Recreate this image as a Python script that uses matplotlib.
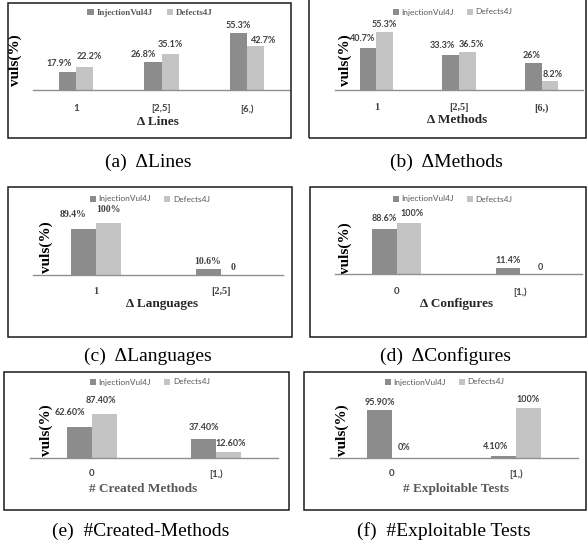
import matplotlib.pyplot as plt
import numpy as np
from matplotlib.patches import Rectangle

# --- data -------------------------------------------------------------
series = ['InjectionVul4J', 'Defects4J']

lines_cats = ['1', '[2,5]', '[6,)']
lines_inj = [17.9, 26.8, 55.3]
lines_d4j = [22.2, 35.1, 42.7]
lines_txt_inj = ['17.9%', '26.8%', '55.3%']
lines_txt_d4j = ['22.2%', '35.1%', '42.7%']

methods_cats = ['1', '[2,5]', '[6,)']
methods_inj = [40.7, 33.3, 26.0]
methods_d4j = [55.3, 36.5, 8.2]
methods_txt_inj = ['40.7%', '33.3%', '26%']
methods_txt_d4j = ['55.3%', '36.5%', '8.2%']

lang_cats = ['1', '[2,5]']
lang_inj = [89.4, 10.6]
lang_d4j = [100.0, 0.0]
lang_txt_inj = ['89.4%', '10.6%']
lang_txt_d4j = ['100%', '0']

conf_cats = ['0', '[1,)']
conf_inj = [88.6, 11.4]
conf_d4j = [100.0, 0.0]
conf_txt_inj = ['88.6%', '11.4%']
conf_txt_d4j = ['100%', '0']

created_cats = ['0', '[1,)']
created_inj = [62.6, 37.4]
created_d4j = [87.4, 12.6]
created_txt_inj = ['62.60%', '37.40%']
created_txt_d4j = ['87.40%', '12.60%']

exploit_cats = ['0', '[1,)']
exploit_inj = [95.9, 4.1]
exploit_d4j = [0.0, 100.0]
exploit_txt_inj = ['95.90%', '4.10%']
exploit_txt_d4j = ['0%', '100%']

# --- style ------------------------------------------------------------
W, H = 587, 546
DARK = '#8c8c8c'
LIGHT = '#c4c4c4'
SERIF = 'Liberation Serif'
SANS = 'Lato'

fig = plt.figure(figsize=(W / 100, H / 100), dpi=100)


def fx(px):
    return px / W


def fy(py):
    return 1 - py / H


# layout in pixels of the reference picture
panels = [
    dict(cats=lines_cats, inj=lines_inj, d4j=lines_d4j, ti=lines_txt_inj, td=lines_txt_d4j,
         box=(8, 3, 291, 138), px=(33, 290), axis=90, scale=1.03,
         leg=(150, 13), leg_font=(SERIF, 'bold', 6.5), tick_font=(SANS, 'bold', 7),
         lab_font=SANS, ylab=(15, 60), xlab=(158, 122), xl_color='#262626', tick_y=108,
         xlabel='Δ Lines', cap=(148, 162), caption='(a)  ΔLines',
         off_i=[(-8, 8), (-10, 8), (0, 8)], off_d=[(5, 11), (0, 9), (8, 6)]),
    dict(cats=methods_cats, inj=methods_inj, d4j=methods_d4j, ti=methods_txt_inj, td=methods_txt_d4j,
         box=(309, -2, 585.5, 138), px=(335, 583), axis=90, scale=1.04,
         leg=(453, 12), leg_font=(SANS, 'normal', 6), tick_font=(SERIF, 'bold', 7.5),
         lab_font=SANS, ylab=(345, 60), xlab=(457, 120), xl_color='#262626', tick_y=107,
         xlabel='Δ Methods', cap=(446, 162), caption='(b)  ΔMethods',
         off_i=[(-6, 9), (-8, 10), (-2, 7)], off_d=[(0, 8), (4, 8), (3, 7)]),
    dict(cats=lang_cats, inj=lang_inj, d4j=lang_d4j, ti=lang_txt_inj, td=lang_txt_d4j,
         box=(8, 187, 292, 337), px=(33, 283), axis=275, scale=0.52,
         leg=(150, 199), leg_font=(SANS, 'normal', 6), tick_font=(SERIF, 'bold', 7.5),
         lab_font=SERIF, ylab=(46, 247), xlab=(162, 304), xl_color='#262626', tick_y=291,
         xlabel='Δ Languages', cap=(148, 356), caption='(c)  ΔLanguages',
         off_i=[(-10, 14), (0, 8)], off_d=[(0, 13), (0, 7)]),
    dict(cats=conf_cats, inj=conf_inj, d4j=conf_d4j, ti=conf_txt_inj, td=conf_txt_d4j,
         box=(310, 187, 585.5, 337), px=(335, 582), axis=274, scale=0.51,
         leg=(453, 199), leg_font=(SANS, 'normal', 6), tick_font=(SANS, 'bold', 7),
         lab_font=SANS, ylab=(345, 248), xlab=(457, 304), xl_color='#262626', tick_y=291,
         xlabel='Δ Configures', cap=(446, 356), caption='(d)  ΔConfigures',
         off_i=[(0, 10), (0, 8)], off_d=[(3, 9), (8, 7)]),
    dict(cats=created_cats, inj=created_inj, d4j=created_d4j, ti=created_txt_inj, td=created_txt_d4j,
         box=(4, 372, 289, 510), px=(30, 278), axis=458, scale=0.5,
         leg=(150, 382), leg_font=(SANS, 'normal', 6), tick_font=(SANS, 'bold', 7),
         lab_font=SANS, ylab=(46, 430), xlab=(143, 489), xl_color='#595959', tick_y=473,
         xlabel='# Created Methods', cap=(141, 531), caption='(e)  #Created-Methods',
         off_i=[(-10, 14), (0, 12)], off_d=[(-4, 14), (2, 8)]),
    dict(cats=exploit_cats, inj=exploit_inj, d4j=exploit_d4j, ti=exploit_txt_inj, td=exploit_txt_d4j,
         box=(304, 372, 585.5, 510), px=(330, 578), axis=458, scale=0.5,
         leg=(445, 382), leg_font=(SANS, 'normal', 6), tick_font=(SANS, 'bold', 7),
         lab_font=SANS, ylab=(342, 430), xlab=(456, 489), xl_color='#595959', tick_y=473,
         xlabel='# Exploitable Tests', cap=(444, 531), caption='(f)  #Exploitable Tests',
         off_i=[(0, 8), (-8, 9)], off_d=[(0, 11), (0, 8)]),
]

for p in panels:
    # panel frame
    x0, y0, x1, y1 = p['box']
    fig.add_artist(Rectangle((fx(x0), fy(y1)), fx(x1 - x0), (y1 - y0) / H,
                             transform=fig.transFigure, fill=False, lw=1.1, ec='#1a1a1a'))

    top_px = 70
    ax = fig.add_axes([fx(p['px'][0]), fy(p['axis']), fx(p['px'][1] - p['px'][0]), top_px / H])
    ax.set_facecolor('none')
    n = len(p['cats'])
    x = np.arange(n)
    bw = 0.2
    b1 = ax.bar(x - bw / 2, p['inj'], bw, color=DARK, label=series[0])
    b2 = ax.bar(x + bw / 2, p['d4j'], bw, color=LIGHT, label=series[1])
    ax.set_xlim(-0.5, n - 0.5)
    ax.set_ylim(0, top_px / p['scale'])

    for bars, txts, offs in [(b1, p['ti'], p['off_i']), (b2, p['td'], p['off_d'])]:
        for bar, t, (dx, dy) in zip(bars, txts, offs):
            ax.annotate(t, (bar.get_x() + bar.get_width() / 2, bar.get_height()),
                        xytext=(dx, dy), textcoords='offset pixels', ha='center', va='center',
                        fontsize=6.5 if p['lab_font'] == SANS else 7, fontweight='bold',
                        family=p['lab_font'], color='#404040')

    for s in ['left', 'right', 'top']:
        ax.spines[s].set_visible(False)
    ax.spines['bottom'].set_color('#8f8f8f')
    ax.spines['bottom'].set_linewidth(1.0)
    ax.set_yticks([])
    tf = p['tick_font']
    ax.set_xticks(x, p['cats'], family=tf[0], fontweight=tf[1], fontsize=tf[2], color='#404040')
    ax.tick_params(axis='x', length=0, pad=(p['tick_y'] - p['axis'] - 4) / 1.389)

    ax.set_ylabel('vuls(%)', family=SERIF, fontweight='bold', fontsize=11, va='center', ha='center')
    ax.yaxis.set_label_coords(fx(p['ylab'][0]), fy(p['ylab'][1]), transform=fig.transFigure)
    ax.set_xlabel(p['xlabel'], family=SERIF, fontweight='bold', fontsize=9.5, va='center',
                  color=p['xl_color'])
    ax.xaxis.set_label_coords(fx(p['xlab'][0]), fy(p['xlab'][1]), transform=fig.transFigure)

    lf = p['leg_font']
    ax.legend(loc='center', bbox_to_anchor=(fx(p['leg'][0]), fy(p['leg'][1])),
              bbox_transform=fig.transFigure, ncol=2, frameon=False,
              prop={'family': lf[0], 'weight': lf[1], 'size': lf[2]}, labelcolor='#595959',
              handlelength=0.7, handleheight=0.7, handletextpad=0.3, columnspacing=1.6,
              borderpad=0)

    fig.text(fx(p['cap'][0]), fy(p['cap'][1]), p['caption'], family=SERIF, fontsize=14,
             ha='center', va='center')

fig.savefig('out.png', dpi=100)
